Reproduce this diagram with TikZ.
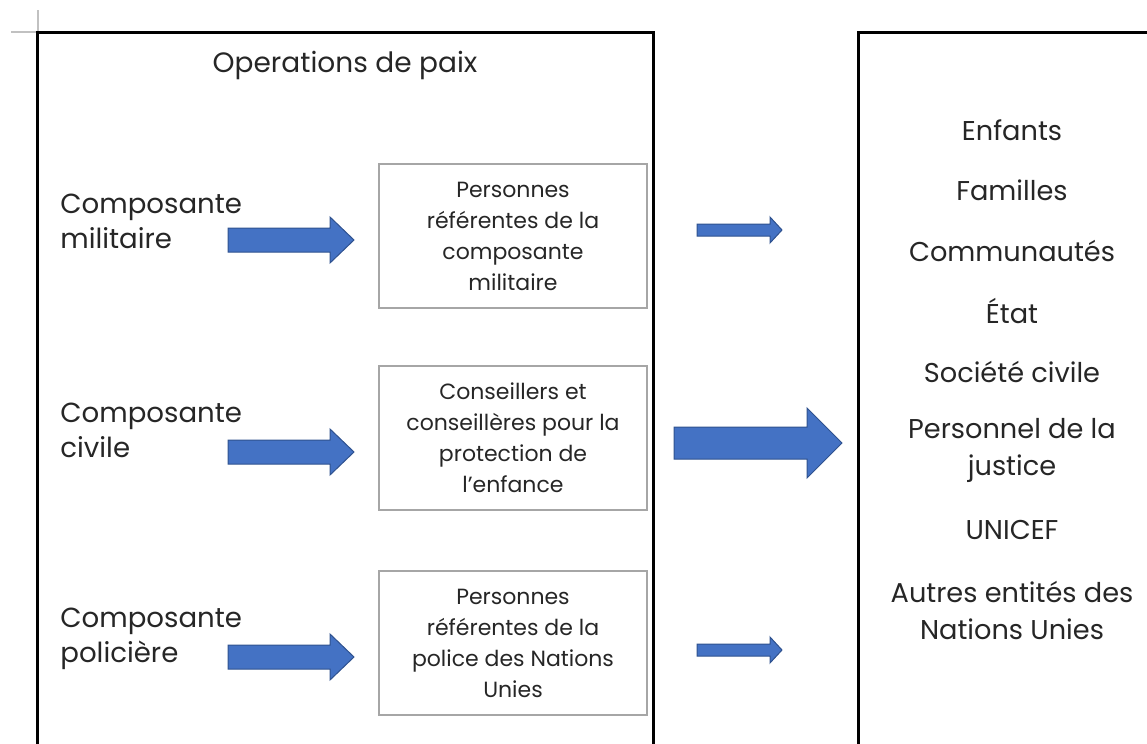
\documentclass[tikz,border=0pt]{standalone}
\usepackage{fontspec}
\setmainfont{Poppins}
\usepackage{tikz}
\usetikzlibrary{positioning}

\definecolor{arrowblue}{HTML}{4472C4}
\definecolor{arrowedge}{HTML}{2F528F}
\definecolor{boxgray}{HTML}{A6A6A6}
\definecolor{textgray}{HTML}{262626}

\tikzset{
  frame/.style={draw=black,line width=1.5pt},
  refbox/.style={draw=boxgray,line width=1pt},
  boxtext/.style={align=center,text=textgray,font=\fontsize{11}{15.5}\selectfont,inner sep=0pt},
  sidelabel/.style={align=left,anchor=west,text=textgray,font=\fontsize{13.8}{17.5}\selectfont,inner sep=0pt},
  listitem/.style={align=center,text=textgray,font=\fontsize{13.6}{18.5}\selectfont,inner sep=0pt},
  blockarrow/.style={fill=arrowblue,draw=arrowedge,line width=0.5pt,line join=miter}
}

% block arrow: start x, tip x, centre y, half shaft, half head, head length
\newcommand{\bluearrow}[6]{%
  \draw[blockarrow] (#1,#3-#4) -- (#2-#6,#3-#4) -- (#2-#6,#3-#5) -- (#2,#3)
    -- (#2-#6,#3+#5) -- (#2-#6,#3+#4) -- (#1,#3+#4) -- cycle;}

\begin{document}
\begin{tikzpicture}[x=0.5pt,y=-0.5pt]
\useasboundingbox (0,0) rectangle (1147,744);
\clip (0,0) rectangle (1147,744);

% page corner mark
\draw[boxgray!70,line width=1pt] (38,10)--(38,32);
\draw[boxgray!70,line width=1pt] (11,32)--(38,32);

% frames (open at the bottom)
\draw[frame] (37,760)--(37,32)--(653,32)--(653,760);
\draw[frame] (858,760)--(858,32)--(1160,32);

\node[text=textgray,font=\fontsize{14}{16}\selectfont] (title) at (345,65) {Operations de paix};

% components
\node[sidelabel] (mil) at (60,221) {Composante\\militaire};
\node[sidelabel] (civ) at (60,430) {Composante\\civile};
\node[sidelabel] (pol) at (60,639) {Composante\\policière};

% focal points
\draw[refbox] (379,164) rectangle (647,308);
\node[boxtext] (bmil) at (513,236) {Personnes\\référentes de la\\composante\\militaire};
\draw[refbox] (379,366) rectangle (647,510);
\node[boxtext] (bciv) at (513,438) {Conseillers et\\conseillères pour la\\protection de\\l’enfance};
\draw[refbox] (379,571) rectangle (647,715);
\node[boxtext] (bpol) at (513,643) {Personnes\\référentes de la\\police des Nations\\Unies};

% arrows
\bluearrow{228}{354}{240}{12}{23}{24}
\bluearrow{228}{354}{452}{12}{23}{24}
\bluearrow{228}{354}{657}{12}{23}{24}
\bluearrow{697}{782}{230}{6}{13}{12}
\bluearrow{674}{842}{443}{16}{35}{35}
\bluearrow{697}{782}{650}{6}{13}{12}

% partners
\node[listitem] (enf) at (1012,130) {Enfants};
\node[listitem] (fam) at (1012,190) {Familles};
\node[listitem] (com) at (1012,251) {Communautés};
\node[listitem] (eta) at (1012,311) {État};
\node[listitem] (soc) at (1012,372) {Société civile};
\node[listitem] (jus) at (1012,450) {Personnel de la\\justice};
\node[listitem] (uni) at (1012,530) {UNICEF};
\node[listitem] (aut) at (1012,610) {Autres entités des\\Nations Unies};
\end{tikzpicture}
\end{document}
